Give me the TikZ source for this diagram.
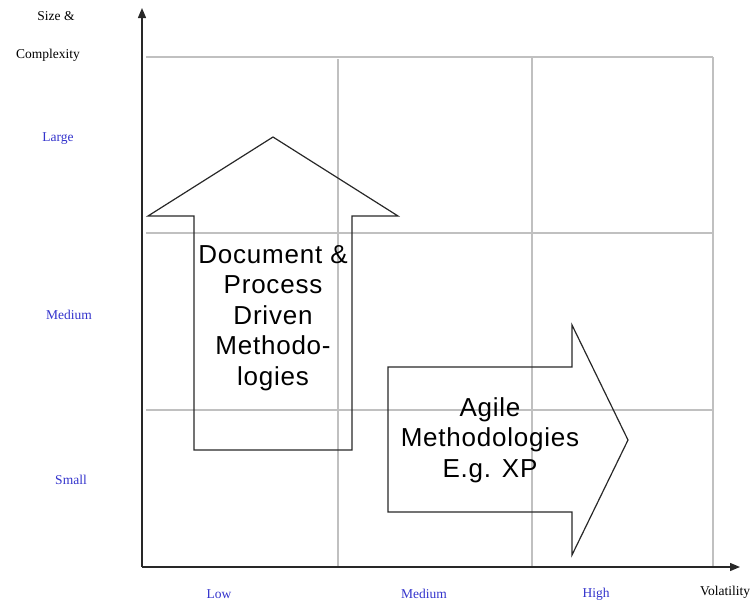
\documentclass[tikz,border=0pt]{standalone}
\usepackage{fontspec}
\setmainfont{Liberation Serif}
\newfontfamily\arrowfont[LetterSpace=3]{Liberation Sans}
\usetikzlibrary{arrows.meta}
\definecolor{lblblue}{RGB}{51,51,204}
\definecolor{gridgray}{RGB}{192,192,192}
\definecolor{outline}{RGB}{40,40,40}
\tikzset{
  gridline/.style={draw=gridgray, line width=1.2pt},
  axisline/.style={draw=outline, line width=1.4pt, -{Triangle[length=10pt,width=8pt]}},
  bigarrow/.style={draw=outline, line width=1.2pt, line join=miter},
  axlabel/.style={font=\fontsize{13.5}{15}\selectfont, text=black, inner sep=0pt},
  catlabel/.style={font=\fontsize{13.5}{15}\selectfont, text=lblblue, inner sep=0pt},
  arrowtext/.style={font=\arrowfont\fontsize{26}{30.5}\selectfont, align=center, inner sep=0pt}
}
\begin{document}
\begin{tikzpicture}[x=1pt,y=-1pt]
\useasboundingbox (0,0) rectangle (756,603);
% grid
\draw[gridline] (146,57) -- (713,57);
\draw[gridline] (146,233) -- (713,233);
\draw[gridline] (146,410) -- (713,410);
\draw[gridline] (338,59) -- (338,566);
\draw[gridline] (532,57) -- (532,566);
\draw[gridline] (713,57) -- (713,566);
% axes
\coordinate (origin) at (142,567);
\coordinate (ytip) at (142,8);
\coordinate (xtip) at (740,567);
\draw[axisline] (origin) -- (ytip);
\draw[axisline] (origin) -- (xtip);
% up arrow
\draw[bigarrow] (148,216) -- (273,137) -- (398,216) -- (352,216) -- (352,450) -- (194,450) -- (194,216) -- cycle;
% right arrow
\draw[bigarrow] (388,367) -- (572,367) -- (572,325) -- (628,440) -- (572,555) -- (572,512) -- (388,512) -- cycle;
% arrow texts
\node[arrowtext] (doc) at (273,318) {Document \&\\Process\\Driven\\Methodo-\\logies};
\node[arrowtext] (agile) at (490,440) {Agile\\Methodologies\\E.g. XP};
% axis labels
\node[axlabel] (size) at (56,16) {Size \&};
\node[axlabel] (complexity) at (48,55) {Complexity};
\node[axlabel] (volatility) at (725,592) {Volatility};
\node[catlabel] (large) at (58,139) {Large};
\node[catlabel] (medy) at (69,315) {Medium};
\node[catlabel] (small) at (71,480) {Small};
\node[catlabel] (low) at (219,594) {Low};
\node[catlabel] (medx) at (424,594) {Medium};
\node[catlabel] (high) at (596,594) {High};
\end{tikzpicture}
\end{document}
